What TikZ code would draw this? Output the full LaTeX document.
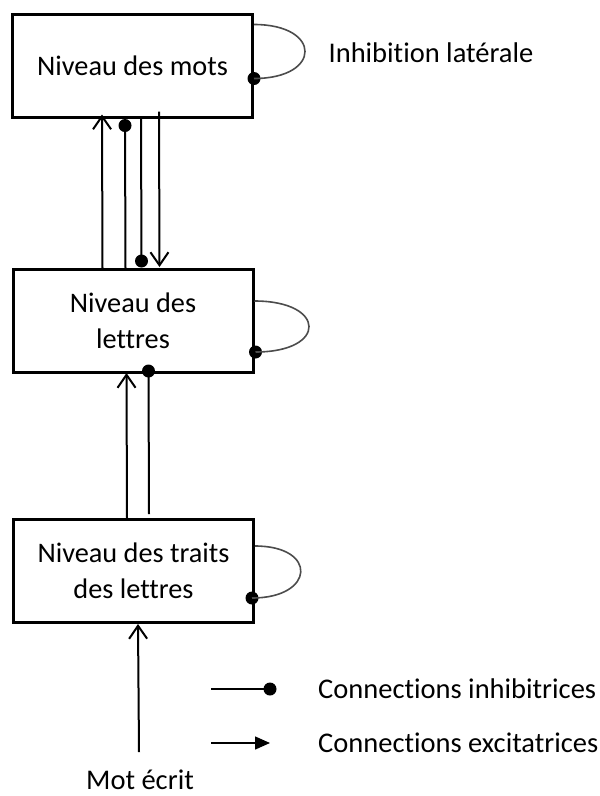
\documentclass[tikz,border=0pt]{standalone}
\usepackage{fontspec}
\setmainfont{Carlito}[Ligatures={NoCommon,NoRequired,NoContextual}]
\usetikzlibrary{arrows.meta,calc}
\begin{document}
\begin{tikzpicture}[x=1pt,y=-1pt,
  level/.style={draw, line width=3pt, minimum width=240pt, minimum height=103pt, align=center, font=\fontsize{28.3}{36}\selectfont, inner sep=0pt},
  lbl/.style={font=\fontsize{28.5}{34}\selectfont, inner sep=0pt},
  conn/.style={line width=2pt},
  exc/.style={conn, -{Straight Barb[length=13pt,width=18pt,line width=2pt]}},
  dotc/.style={circle, fill=black, inner sep=0pt, minimum size=13pt},
  loopline/.style={line width=1.6pt, draw=black!70},
]
\useasboundingbox (0,0) rectangle (600,796);

% levels
\node[level] (b1) at (132.5,65.5) {Niveau des mots};
\node[level] (b2) at (133,321) {Niveau des\\lettres};
\node[level] (b3) at (133.5,571) {Niveau des traits\\des lettres};

% labels
\node[lbl] (lat) at (431,53) {Inhibition latérale};
\node[lbl] (mot) at (140,780) {Mot écrit};
\coordinate (src) at (139,752);

% b1 <-> b2
\draw[exc] ($(b2.north west)+(91,0)$) -- ($(b1.south west)+(91,-4)$);
\node[dotc] (d1) at ($(b1.south west)+(114,7)$) {};
\draw[conn] ($(b2.north west)+(114,0)$) -- (d1.center);
\node[dotc] (d2) at ($(b2.north west)+(130,-7)$) {};
\draw[conn] ($(b1.south west)+(130,0)$) -- (d2.center);
\draw[exc] ($(b1.south west)+(148,-7)$) -- ($(b2.north west)+(148,-1)$);

% b2 <-> b3
\draw[exc] ($(b3.north west)+(115,0)$) -- ($(b2.south west)+(115,-1)$);
\node[dotc] (d3) at ($(b2.south west)+(137,-3)$) {};
\draw[conn] ($(b3.north west)+(137,-4)$) -- (d3.center);

% input
\draw[exc] (src) -- ($(b3.south west)+(126,0)$);

% lateral inhibition loops
\node[dotc] (l1) at ($(b1.north east)+(0,66)$) {};
\draw[loopline] ($(b1.north east)+(0,12)$) .. controls +(68,0) and +(68,0) .. (l1.center);
\node[dotc] (l2) at ($(b2.north east)+(1,84)$) {};
\draw[loopline] ($(b2.north east)+(0,33)$) .. controls +(72,0) and +(72,0) .. (l2.center);
\node[dotc] (l3) at ($(b3.north east)+(-3,80)$) {};
\draw[loopline] ($(b3.north east)+(0,28)$) .. controls +(63,0) and +(63,0) .. (l3.center);

% legend
\coordinate (li) at (211,689);
\node[dotc] (ld) at (270,689) {};
\draw[conn, line width=1.5pt] (li) -- (ld.center);
\node[lbl, anchor=west] (ti) at (318,689) {Connections inhibitrices};
\coordinate (le) at (211,743);
\coordinate (lt) at (270,743);
\draw[conn, line width=1.5pt, -{Triangle[length=15pt,width=13pt]}] (le) -- (lt);
\node[lbl, anchor=west] (te) at (318,743) {Connections excitatrices};
\end{tikzpicture}
\end{document}
